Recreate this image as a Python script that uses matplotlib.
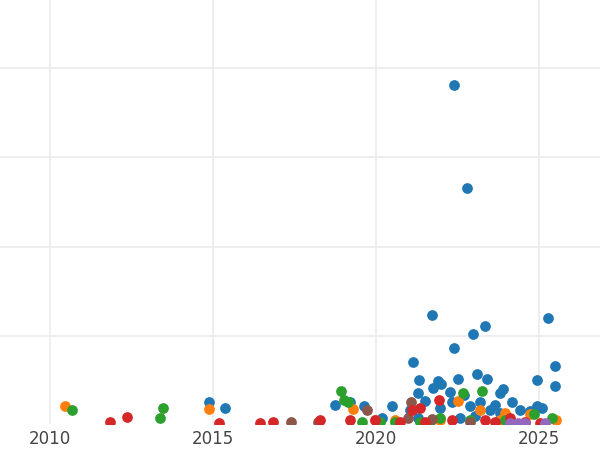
import matplotlib
matplotlib.use('Agg')
import matplotlib.pyplot as plt

# (year, value) per series
blue_x = [2022.39, 2022.79, 2021.72, 2023.34, 2022.98, 2025.28, 2022.39, 2021.13, 2025.49, 2025.49,
          2023.10, 2023.40, 2022.52, 2021.90, 2022.0, 2021.75, 2023.90, 2024.94, 2021.32, 2022.27,
          2014.88, 2015.37, 2018.74, 2019.20, 2019.63, 2020.49, 2021.29, 2021.50, 2022.70, 2023.80,
          2024.17, 2024.94, 2025.09, 2022.88, 2023.19, 2023.65, 2020.18, 2021.04, 2021.96, 2022.33,
          2024.42, 2024.72, 2023.80, 2023.04, 2021.29, 2022.58, 2023.50, 2023.96]
blue_y = [381, 266, 124, 111, 103, 120, 87, 71, 67, 44,
          58, 52, 52, 50, 47, 42, 41, 51, 51, 38,
          26, 20, 23, 26, 22, 22, 36, 28, 34, 36,
          26, 22, 20, 22, 27, 23, 9, 18, 20, 26,
          18, 16, 14, 11, 9, 9, 18, 13]
orange_x = [2010.46, 2014.88, 2019.29, 2022.52, 2023.19, 2023.96, 2024.72, 2019.97, 2025.52, 2021.96, 2020.58, 2023.80]
orange_y = [22, 19, 19, 28, 17, 14, 13, 6, 6, 6, 6, 6]
green_x = [2010.67, 2013.47, 2013.37, 2018.93, 2019.02, 2019.14, 2022.67, 2023.25, 2024.85, 2025.40,
           2020.12, 2021.35, 2022.88, 2020.58, 2021.66, 2023.96, 2019.57, 2021.96]
green_y = [18, 20, 9, 39, 29, 26, 36, 39, 13, 9, 4, 4, 6, 4, 4, 6, 4, 9]
red_x = [2011.84, 2012.36, 2015.18, 2016.44, 2016.84, 2018.28, 2019.20, 2019.97, 2021.10, 2021.35,
         2021.93, 2022.33, 2023.34, 2024.11, 2024.57, 2025.03, 2023.65, 2021.50, 2020.74]
red_y = [4, 10, 3, 3, 4, 6, 6, 6, 17, 20, 29, 6, 6, 9, 4, 3, 4, 4, 4]
brown_x = [2017.39, 2018.22, 2019.72, 2021.07, 2021.72, 2020.98, 2022.88]
brown_y = [4, 4, 17, 27, 8, 9, 4]
purple_x = [2024.11, 2024.36, 2025.18, 2024.57]
purple_y = [3, 3, 3, 3]

fig = plt.figure(figsize=(6, 4.5), dpi=100)
ax = fig.add_axes([0, 0.058, 1, 0.942])

ax.scatter(blue_x, blue_y, s=45, color='#1f77b4', zorder=3)
ax.scatter(orange_x, orange_y, s=45, color='#ff7f0e', zorder=3)
ax.scatter(green_x, green_y, s=45, color='#2ca02c', zorder=3)
ax.scatter(brown_x, brown_y, s=45, color='#8c564b', zorder=3)
ax.scatter(red_x, red_y, s=45, color='#d62728', zorder=3)
ax.scatter(purple_x, purple_y, s=45, color='#9467bd', zorder=3)

ax.set_xlim(2008.47, 2026.87)
ax.set_ylim(2, 476)
ax.set_xticks([2010, 2015, 2020, 2025])
ax.set_yticks([100, 200, 300, 400])
ax.tick_params(axis='y', left=False, labelleft=False)
ax.tick_params(axis='x', bottom=False, labelsize=12, labelcolor='#444444', pad=1)
ax.grid(True, color='#ebebeb', linewidth=1.2, zorder=0)
for s in ax.spines.values():
    s.set_visible(False)

fig.savefig('out.png')
